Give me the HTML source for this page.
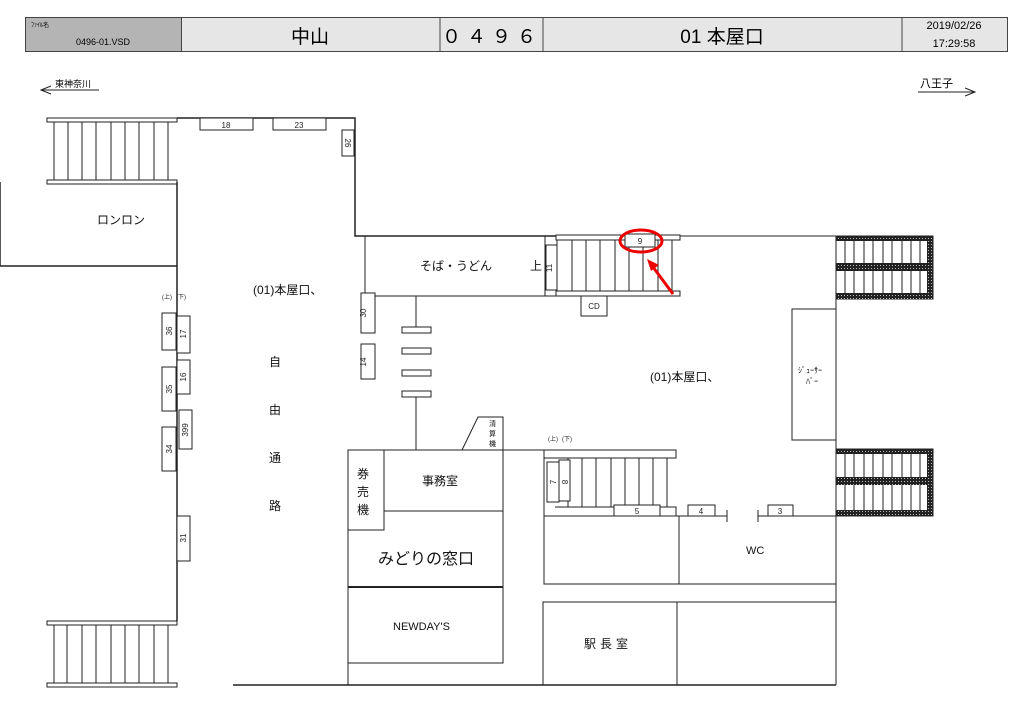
<!DOCTYPE html>
<html><head><meta charset="utf-8"><style>
html,body{margin:0;padding:0;background:#fff;}
svg{display:block;font-family:"Liberation Sans","Noto Sans CJK JP",sans-serif;}
</style></head><body>
<svg width="1024" height="724" viewBox="0 0 1024 724" xmlns="http://www.w3.org/2000/svg">
<defs>
<pattern id="h" width="3" height="3" patternUnits="userSpaceOnUse"><rect width="3" height="3" fill="#222"/><rect x="1" y="1" width="1" height="1" fill="#bbb"/></pattern>
</defs>
<!-- header -->
<rect x="25.5" y="17.5" width="982" height="34" fill="#e6e6e6" stroke="#444"/>
<rect x="25.5" y="17.5" width="156" height="34" fill="#b4b4b4" stroke="#444"/>
<line x1="440" y1="17" x2="440" y2="52" stroke="#444"/>
<line x1="543" y1="17" x2="543" y2="52" stroke="#444"/>
<line x1="902" y1="17" x2="902" y2="52" stroke="#444"/>
<text x="31" y="27" font-size="6">ﾌｧｲﾙ名</text>
<text x="76" y="45" font-size="9">0496-01.VSD</text>
<text x="310" y="43" font-size="19" text-anchor="middle">中山</text>
<text x="492" y="43" font-size="19" text-anchor="middle" letter-spacing="6">０４９６</text>
<text x="722" y="43" font-size="19" text-anchor="middle">01 本屋口</text>
<text x="954" y="29" font-size="11" text-anchor="middle">2019/02/26</text>
<text x="954" y="47" font-size="11" text-anchor="middle">17:29:58</text>
<!-- direction -->
<text x="55" y="87" font-size="9">東神奈川</text>
<line x1="41" y1="90" x2="99" y2="90" stroke="#222"/>
<polyline points="51,86 41,90 51,94" fill="none" stroke="#222"/>
<text x="920" y="87" font-size="11">八王子</text>
<line x1="918" y1="92" x2="975" y2="92" stroke="#222"/>
<polyline points="965,88 975,92 965,96" fill="none" stroke="#222"/>

<g stroke="#222" fill="none" stroke-width="1">
<!-- top-left stairs -->
<rect x="47" y="118" width="130" height="4" fill="#fff"/>
<rect x="47" y="180" width="130" height="4" fill="#fff"/>
<g stroke-width="1"><path d="M54 122V180M68 122V180M82 122V180M96 122V180M111 122V180M125 122V180M139 122V180M154 122V180M168 122V180"/></g>
<!-- bottom-left stairs -->
<rect x="47" y="621" width="130" height="4" fill="#fff"/>
<rect x="47" y="683" width="130" height="4" fill="#fff"/>
<path d="M54 625V683M67 625V683M82 625V683M96 625V683M111 625V683M125 625V683M139 625V683M154 625V683M168 625V683"/>
<!-- walls -->
<path d="M177 118H355V236H680" stroke-width="1.5"/>
<path d="M0 182V266H177" stroke-width="1.5"/>
<path d="M177 182V621" stroke-width="1.5"/>
<rect x="200" y="118" width="53" height="12" fill="#fff"/>
<rect x="273" y="118" width="53" height="12" fill="#fff"/>
<rect x="342" y="130" width="12" height="26" fill="#fff"/>
<!-- left wall boxes -->
<rect x="162" y="313" width="14" height="37" fill="#fff"/>
<rect x="177" y="316" width="13" height="37" fill="#fff"/>
<rect x="162" y="367" width="14" height="44" fill="#fff"/>
<rect x="177" y="360" width="13" height="34" fill="#fff"/>
<rect x="179" y="410" width="13" height="39" fill="#fff"/>
<rect x="162" y="427" width="14" height="44" fill="#fff"/>
<rect x="177" y="516" width="13" height="45" fill="#fff"/>
<!-- soba -->
<path d="M365 236V296H680"/>
<path d="M545 236V296"/>
<rect x="361" y="293" width="14" height="40" fill="#fff"/>
<rect x="361" y="344" width="14" height="35" fill="#fff"/>
<path d="M416 296V327M416 397V450"/>
<rect x="402" y="327" width="29" height="6"/>
<rect x="402" y="348" width="29" height="6"/>
<rect x="402" y="370" width="29" height="6"/>
<rect x="402" y="391" width="29" height="6"/>
<!-- top stairs -->
<rect x="556" y="235" width="124" height="5" fill="#fff"/>
<rect x="556" y="291" width="124" height="5" fill="#fff"/>
<rect x="546" y="245" width="11" height="45" fill="#fff"/>
<path d="M572 240V291M586 240V291M600 240V291M615 240V291M629 240V291M643 240V291M658 240V291M672 240V291M557 240V291"/>
<rect x="625" y="234" width="30" height="13" fill="#fff"/>
<rect x="581" y="296" width="26" height="20" fill="#fff"/>
<!-- right walls -->
<path d="M680 236H836M836 299V449M836 516V685"/>
<rect x="792" y="309" width="44" height="131" fill="#fff"/>
<!-- office block -->
<rect x="348" y="450" width="155" height="213" fill="#fff"/>
<rect x="348" y="450" width="36" height="80" fill="#fff"/>
<path d="M384 511H503"/>
<path d="M348 587H503" stroke-width="2"/>
<path d="M348 663V685"/>
<path d="M233 685H836" stroke-width="1.5"/>
<path d="M462 450L478 417H503V450M503 450H544"/>
<!-- lower stairs -->
<path d="M544 450V516"/>
<rect x="544" y="450" width="132" height="8" fill="#fff"/>
<path d="M568 458V507M582 458V507M596 458V507M611 458V507M625 458V507M639 458V507M653 458V507M667 458V507"/>
<path d="M555 507H676V516"/>
<rect x="547" y="462" width="12" height="40" fill="#fff"/>
<rect x="559" y="460" width="11" height="41" fill="#fff"/>
<rect x="614" y="505" width="46" height="11" fill="#fff"/>
<path d="M544 516H727M758 516H836M727 510V522M758 510V522"/>
<rect x="688" y="505" width="27" height="11" fill="#fff"/>
<rect x="768" y="505" width="25" height="11" fill="#fff"/>
<rect x="544" y="516" width="135" height="68"/>
<path d="M679 584H836"/>
<rect x="543" y="602" width="134" height="83"/>
<path d="M677 602H836"/>
</g>
<!-- escalators -->
<g>
<rect x="836" y="236" width="97" height="63" fill="#fff" stroke="#222"/>
<path d="M845 240V295M854 240V295M864 240V295M873 240V295M883 240V295M892 240V295M902 240V295M911 240V295M920 240V295" stroke="#222"/>
<rect x="836" y="236" width="97" height="5" fill="url(#h)"/>
<rect x="836" y="263" width="97" height="8" fill="url(#h)"/>
<rect x="836" y="293" width="97" height="6" fill="url(#h)"/>
<rect x="927" y="236" width="6" height="63" fill="url(#h)"/>
<rect x="836" y="449" width="97" height="67" fill="#fff" stroke="#222"/>
<path d="M845 453V512M854 453V512M864 453V512M873 453V512M883 453V512M892 453V512M902 453V512M911 453V512M920 453V512" stroke="#222"/>
<rect x="836" y="449" width="97" height="5" fill="url(#h)"/>
<rect x="836" y="477" width="97" height="8" fill="url(#h)"/>
<rect x="836" y="510" width="97" height="6" fill="url(#h)"/>
<rect x="927" y="449" width="6" height="67" fill="url(#h)"/>
</g>
<!-- red marker -->
<ellipse cx="641" cy="241" rx="21" ry="11" fill="none" stroke="#e00" stroke-width="3"/>
<line x1="673" y1="294" x2="653" y2="267" stroke="#e00" stroke-width="3"/>
<polygon points="647,259 659,265 651,271" fill="#e00"/>

<!-- labels -->
<g font-size="8" text-anchor="middle" fill="#222">
<text x="226" y="128">18</text>
<text x="299" y="128">23</text>
<text x="640" y="244">9</text>
<text x="594" y="309">CD</text>
<text x="637" y="514">5</text>
<text x="701" y="514">4</text>
<text x="780" y="514">3</text>
<text transform="translate(345,143) rotate(90)">26</text>
<text transform="translate(366,313) rotate(-90)">30</text>
<text transform="translate(366,362) rotate(-90)">14</text>
<text transform="translate(552,268) rotate(-90)">11</text>
<text transform="translate(172,331) rotate(-90)">36</text>
<text transform="translate(186,334) rotate(-90)">17</text>
<text transform="translate(172,389) rotate(-90)">35</text>
<text transform="translate(186,377) rotate(-90)">16</text>
<text transform="translate(188,430) rotate(-90)">399</text>
<text transform="translate(172,449) rotate(-90)">34</text>
<text transform="translate(186,538) rotate(-90)">31</text>
<text transform="translate(556,482) rotate(-90)">7</text>
<text transform="translate(562,482) rotate(90)">8</text>
<text x="167" y="299" font-size="6">(上)</text>
<text x="181" y="299" font-size="6">(下)</text>
<text x="553" y="441" font-size="6">(上)</text>
<text x="567" y="441" font-size="6">(下)</text>
</g>
<g font-size="12" fill="#111">
<text x="97" y="224">ロンロン</text>
<text x="420" y="270">そば・うどん</text>
<text x="530" y="270">上</text>
<text x="253" y="294">(01)本屋口、</text>
<text x="650" y="381">(01)本屋口、</text>
<text x="269" y="366">自</text>
<text x="269" y="414">由</text>
<text x="269" y="462">通</text>
<text x="269" y="510">路</text>
<text x="357" y="478">券</text>
<text x="357" y="496">売</text>
<text x="357" y="514">機</text>
<text x="422" y="485">事務室</text>
<text x="378" y="564" font-size="16">みどりの窓口</text>
<text x="393" y="630" font-size="11">NEWDAY'S</text>
<text x="584" y="648" letter-spacing="4">駅長室</text>
<text x="746" y="554" font-size="11">WC</text>
<text x="798" y="373" font-size="8">ｼﾞｭｰｻｰ</text>
<text x="806" y="384" font-size="8">ﾊﾞｰ</text>
<text x="489" y="426" font-size="7">清</text>
<text x="489" y="436" font-size="7">算</text>
<text x="489" y="446" font-size="7">機</text>
</g>
</svg>
</body></html>
